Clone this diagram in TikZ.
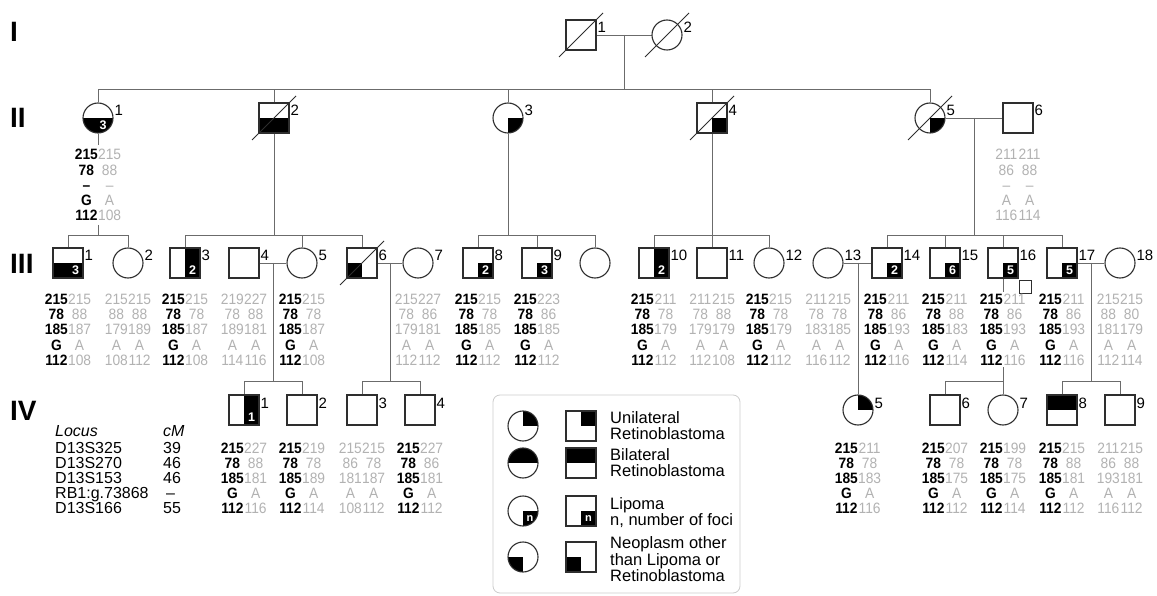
\documentclass[tikz,border=0pt]{standalone}
\usepackage{fontspec}
\setmainfont{Liberation Sans}
\newfontfamily\hapfont[FakeStretch=0.92]{Liberation Sans}
\usetikzlibrary{calc}
\definecolor{hapgray}{gray}{0.70}
\definecolor{lncol}{gray}{0.42}
\definecolor{symcol}{gray}{0.18}
\definecolor{boxcol}{gray}{0.80}
\newcommand\hapcol[9]{%
 \node[#4] (#1a) at (#2,#3) {#5};
 \node[#4] (#1b) at (#2,#3+15.2) {#6};
 \node[#4] (#1c) at (#2,#3+30.4) {#7};
 \node[#4] (#1d) at (#2,#3+45.6) {#8};
 \node[#4] (#1e) at (#2,#3+60.8) {#9};}
\tikzset{
 conn/.style={draw=lncol, line width=0.9pt},
 sq/.style={rectangle, draw=symcol, line width=1.1pt, minimum size=30pt, inner sep=0pt, fill=white},
 ci/.style={circle, draw=symcol, line width=1.1pt, minimum size=30pt, inner sep=0pt, fill=white},
 fBR/.style={path picture={\fill[black] (path picture bounding box.center) rectangle (path picture bounding box.south east);}},
 fTR/.style={path picture={\fill[black] (path picture bounding box.center) rectangle (path picture bounding box.north east);}},
 fBL/.style={path picture={\fill[black] (path picture bounding box.center) rectangle (path picture bounding box.south west);}},
 fBH/.style={path picture={\fill[black] (path picture bounding box.west) rectangle (path picture bounding box.south east);}},
 fTH/.style={path picture={\fill[black] (path picture bounding box.west) rectangle (path picture bounding box.north east);}},
 fRH/.style={path picture={\fill[black] (path picture bounding box.north) rectangle (path picture bounding box.south east);}},
 slash/.style={draw=symcol, line width=1pt},
 hb/.style={anchor=base, inner sep=0pt, font=\hapfont\fontsize{15}{15}\selectfont\bfseries, text=black},
 hg/.style={anchor=base, inner sep=0pt, font=\hapfont\fontsize{15}{15}\selectfont, text=hapgray},
 lbl/.style={anchor=base west, inner sep=0pt, font=\fontsize{15}{15}\selectfont},
 gen/.style={anchor=base west, inner sep=0pt, font=\bfseries\fontsize{28}{28}\selectfont},
 lt/.style={anchor=base west, inner sep=0pt, font=\fontsize{16.5}{17}\selectfont},
 loc/.style={anchor=base west, inner sep=0pt, font=\fontsize{16}{16}\selectfont},
 qn/.style={inner sep=0pt, text=white, font=\bfseries\fontsize{12.5}{12.5}\selectfont},
}
\begin{document}
\begin{tikzpicture}[x=1pt,y=-1pt]
\fill[white] (0,0) rectangle (1157,596);
\useasboundingbox (0,0) rectangle (1157,596);

% generation labels
\node[gen] (gI) at (10,42) {I};
\node[gen] (gII) at (10,128) {II};
\node[gen] (gIII) at (10,273.5) {III};
\node[gen] (gIV) at (10,420) {IV};

% helper coordinates for sibship lines
\coordinate (s2) at (0,89);
\coordinate (s3) at (0,235);
\coordinate (s4) at (0,381);

% ---------------- Generation I
\coordinate (m12) at (624,35);
\draw[conn] (581,35) -- (667,35);
\node[sq] (I1) at (581,35) {};
\node[ci] (I2) at (667,35) {};
\draw[slash] ([shift={(-22,22)}]I1.center) -- ([shift={(22,-22)}]I1.center);
\draw[slash] ([shift={(-22,22)}]I2.center) -- ([shift={(22,-22)}]I2.center);
\node[lbl] (I1l) at ([shift={(0.8,-2)}]I1.east) {1};
\node[lbl] (I2l) at ([shift={(0.8,-2)}]I2.east) {2};
\draw[conn] (m12) -- (m12 |- s2);

% ---------------- Generation II
\node[ci, fBH] (II1) at (98,118) {};
\node[qn] (II1n) at ([shift={(5,7)}]II1.center) {3};
\node[sq, fBH] (II2) at (274,118) {};
\node[ci, fBR] (II3) at (508,118) {};
\node[sq, fBR] (II4) at (712,118) {};
\node[ci, fBR] (II5) at (930,118) {};
\node[sq] (II6) at (1018,118) {};
\draw[slash] ([shift={(-22,22)}]II2.center) -- ([shift={(22,-22)}]II2.center);
\draw[slash] ([shift={(-22,22)}]II4.center) -- ([shift={(22,-22)}]II4.center);
\draw[slash] ([shift={(-22,22)}]II5.center) -- ([shift={(22,-22)}]II5.center);
\node[lbl] (II1l) at ([shift={(0.8,-2)}]II1.east) {1};
\node[lbl] (II2l) at ([shift={(0.8,-2)}]II2.east) {2};
\node[lbl] (II3l) at ([shift={(0.8,-2)}]II3.east) {3};
\node[lbl] (II4l) at ([shift={(0.8,-2)}]II4.east) {4};
\node[lbl] (II5l) at ([shift={(0.8,-2)}]II5.east) {5};
\node[lbl] (II6l) at ([shift={(0.8,-2)}]II6.east) {6};

\draw[conn] (II1.north) -- (II1.north |- s2) -- (II5.north |- s2) -- (II5.north);
\draw[conn] (II2.north) -- (II2.north |- s2);
\draw[conn] (II3.north) -- (II3.north |- s2);
\draw[conn] (II4.north) -- (II4.north |- s2);
\draw[conn] (II5.east) -- (II6.west);

\hapcol{hII1L}{98-11.6}{160}{hb}{215}{78}{–}{G}{112}
\hapcol{hII1R}{98+11.6}{160}{hg}{215}{88}{–}{A}{108}
\hapcol{hII6L}{1018-11.6}{160}{hg}{211}{86}{–}{A}{116}
\hapcol{hII6R}{1018+11.6}{160}{hg}{211}{88}{–}{A}{114}

% ---------------- Generation III
\node[sq, fBH] (III1) at (68,263) {};
\node[qn] (III1n) at ([shift={(7.5,7.5)}]III1.center) {3};
\node[ci] (III2) at (128,263) {};
\node[sq, fRH] (III3) at (185,263) {};
\node[qn] (III3n) at ([shift={(7.5,7.5)}]III3.center) {2};
\node[sq] (III4) at (244,263) {};
\node[ci] (III5) at (302,263) {};
\node[sq, fBL] (III6) at (362,263) {};
\node[ci] (III7) at (418,263) {};
\node[sq, fBR] (III8) at (478,263) {};
\node[qn] (III8n) at ([shift={(7.5,7.5)}]III8.center) {2};
\node[sq, fBR] (III9) at (537,263) {};
\node[qn] (III9n) at ([shift={(7.5,7.5)}]III9.center) {3};
\node[ci] (IIIx) at (595,263) {};
\node[sq, fRH] (III10) at (654,263) {};
\node[qn] (III10n) at ([shift={(7.5,7.5)}]III10.center) {2};
\node[sq] (III11) at (712,263) {};
\node[ci] (III12) at (769,263) {};
\node[ci] (III13) at (828,263) {};
\node[sq, fBR] (III14) at (887,263) {};
\node[qn] (III14n) at ([shift={(7.5,7.5)}]III14.center) {2};
\node[sq, fBR] (III15) at (945,263) {};
\node[qn] (III15n) at ([shift={(7.5,7.5)}]III15.center) {6};
\node[sq, fBR] (III16) at (1003,263) {};
\node[qn] (III16n) at ([shift={(7.5,7.5)}]III16.center) {5};
\node[sq, fBR] (III17) at (1062,263) {};
\node[qn] (III17n) at ([shift={(7.5,7.5)}]III17.center) {5};
\node[ci] (III18) at (1120,263) {};
\node[sq, minimum size=12.5pt, line width=1pt] (III16s) at (1025.5,287) {};
\draw[slash] ([shift={(-22,22)}]III6.center) -- ([shift={(22,-22)}]III6.center);

\node[lbl] (III1l) at ([shift={(0.8,-2)}]III1.east) {1};
\node[lbl] (III2l) at ([shift={(0.8,-2)}]III2.east) {2};
\node[lbl] (III3l) at ([shift={(0.8,-2)}]III3.east) {3};
\node[lbl] (III4l) at ([shift={(0.8,-2)}]III4.east) {4};
\node[lbl] (III5l) at ([shift={(0.8,-2)}]III5.east) {5};
\node[lbl] (III6l) at ([shift={(0.8,-2)}]III6.east) {6};
\node[lbl] (III7l) at ([shift={(0.8,-2)}]III7.east) {7};
\node[lbl] (III8l) at ([shift={(0.8,-2)}]III8.east) {8};
\node[lbl] (III9l) at ([shift={(0.8,-2)}]III9.east) {9};
\node[lbl] (III10l) at ([shift={(0.8,-2)}]III10.east) {10};
\node[lbl] (III11l) at ([shift={(0.8,-2)}]III11.east) {11};
\node[lbl] (III12l) at ([shift={(0.8,-2)}]III12.east) {12};
\node[lbl] (III13l) at ([shift={(0.8,-2)}]III13.east) {13};
\node[lbl] (III14l) at ([shift={(0.8,-2)}]III14.east) {14};
\node[lbl] (III15l) at ([shift={(0.8,-2)}]III15.east) {15};
\node[lbl] (III16l) at ([shift={(0.8,-2)}]III16.east) {16};
\node[lbl] (III17l) at ([shift={(0.8,-2)}]III17.east) {17};
\node[lbl] (III18l) at ([shift={(0.8,-2)}]III18.east) {18};

% descent lines II -> III
\coordinate (d1a) at (98,145);
\coordinate (d1b) at (98,225);
\draw[conn] (II1.south) -- (d1a);
\draw[conn] (d1b) -- (d1b |- s3);
\draw[conn] (III1.north) -- (III1.north |- s3) -- (III2.north |- s3) -- (III2.north);
\draw[conn] (II2.south) -- (II2.south |- s3);
\draw[conn] (III3.north) -- (III3.north |- s3) -- (III6.north |- s3) -- (III6.north);
\draw[conn] (III5.north) -- (III5.north |- s3);
\draw[conn] (II3.south) -- (II3.south |- s3);
\draw[conn] (III8.north) -- (III8.north |- s3) -- (IIIx.north |- s3) -- (IIIx.north);
\draw[conn] (III9.north) -- (III9.north |- s3);
\draw[conn] (II4.south) -- (II4.south |- s3);
\draw[conn] (III10.north) -- (III10.north |- s3) -- (III12.north |- s3) -- (III12.north);
\draw[conn] (III11.north) -- (III11.north |- s3);
\coordinate (m56) at (974,118);
\draw[conn] (m56) -- (m56 |- s3);
\draw[conn] (III14.north) -- (III14.north |- s3) -- (III17.north |- s3) -- (III17.north);
\draw[conn] (III15.north) -- (III15.north |- s3);
\draw[conn] (III16.north) -- (III16.north |- s3);

% marriages in III
\draw[conn] (III4.east) -- (III5.west);
\draw[conn] (III6.east) -- (III7.west);
\draw[conn] (III13.east) -- (III14.west);
\draw[conn] (III17.east) -- (III18.west);
\coordinate (m45) at (273,263);
\coordinate (m67) at (390,263);
\coordinate (m1314) at (858,263);
\coordinate (m1718) at (1091,263);
\coordinate (d16a) at (1003,292);
\coordinate (d16b) at (1003,367);

% haplotypes III
\hapcol{hIII1L}{68-11.6}{304.5}{hb}{215}{78}{185}{G}{112}
\hapcol{hIII1R}{68+11.6}{304.5}{hg}{215}{88}{187}{A}{108}
\hapcol{hIII2L}{128-11.6}{304.5}{hg}{215}{88}{179}{A}{108}
\hapcol{hIII2R}{128+11.6}{304.5}{hg}{215}{88}{189}{A}{112}
\hapcol{hIII3L}{185-11.6}{304.5}{hb}{215}{78}{185}{G}{112}
\hapcol{hIII3R}{185+11.6}{304.5}{hg}{215}{78}{187}{A}{108}
\hapcol{hIII4L}{244-11.6}{304.5}{hg}{219}{78}{189}{A}{114}
\hapcol{hIII4R}{244+11.6}{304.5}{hg}{227}{88}{181}{A}{116}
\hapcol{hIII5L}{302-11.6}{304.5}{hb}{215}{78}{185}{G}{112}
\hapcol{hIII5R}{302+11.6}{304.5}{hg}{215}{78}{187}{A}{108}
\hapcol{hIII7L}{418-11.6}{304.5}{hg}{215}{78}{179}{A}{112}
\hapcol{hIII7R}{418+11.6}{304.5}{hg}{227}{86}{181}{A}{112}
\hapcol{hIII8L}{478-11.6}{304.5}{hb}{215}{78}{185}{G}{112}
\hapcol{hIII8R}{478+11.6}{304.5}{hg}{215}{78}{185}{A}{112}
\hapcol{hIII9L}{537-11.6}{304.5}{hb}{215}{78}{185}{G}{112}
\hapcol{hIII9R}{537+11.6}{304.5}{hg}{223}{86}{185}{A}{112}
\hapcol{hIIIaL}{654-11.6}{304.5}{hb}{215}{78}{185}{G}{112}
\hapcol{hIIIaR}{654+11.6}{304.5}{hg}{211}{78}{179}{A}{112}
\hapcol{hIIIbL}{712-11.6}{304.5}{hg}{211}{78}{179}{A}{112}
\hapcol{hIIIbR}{712+11.6}{304.5}{hg}{215}{88}{179}{A}{108}
\hapcol{hIIIcL}{769-11.6}{304.5}{hb}{215}{78}{185}{G}{112}
\hapcol{hIIIcR}{769+11.6}{304.5}{hg}{215}{78}{179}{A}{112}
\hapcol{hIIIdL}{828-11.6}{304.5}{hg}{211}{78}{183}{A}{116}
\hapcol{hIIIdR}{828+11.6}{304.5}{hg}{215}{78}{185}{A}{112}
\hapcol{hIIIeL}{887-11.6}{304.5}{hb}{215}{78}{185}{G}{112}
\hapcol{hIIIeR}{887+11.6}{304.5}{hg}{211}{86}{193}{A}{116}
\hapcol{hIIIfL}{945-11.6}{304.5}{hb}{215}{78}{185}{G}{112}
\hapcol{hIIIfR}{945+11.6}{304.5}{hg}{211}{88}{183}{A}{114}
\hapcol{hIIIgL}{1003-11.6}{304.5}{hb}{215}{78}{185}{G}{112}
\hapcol{hIIIgR}{1003+11.6}{304.5}{hg}{211}{86}{193}{A}{116}
\hapcol{hIIIhL}{1062-11.6}{304.5}{hb}{215}{78}{185}{G}{112}
\hapcol{hIIIhR}{1062+11.6}{304.5}{hg}{211}{86}{193}{A}{116}
\hapcol{hIIIiL}{1120-11.6}{304.5}{hg}{215}{88}{181}{A}{112}
\hapcol{hIIIiR}{1120+11.6}{304.5}{hg}{215}{80}{179}{A}{114}

% ---------------- Generation IV
\node[sq, fRH] (IV1) at (244,410) {};
\node[qn] (IV1n) at ([shift={(7.5,7.5)}]IV1.center) {1};
\node[sq] (IV2) at (302,410) {};
\node[sq] (IV3) at (362,410) {};
\node[sq] (IV4) at (420,410) {};
\node[ci, fTR] (IV5) at (858,410) {};
\node[sq] (IV6) at (945,410) {};
\node[ci] (IV7) at (1003,410) {};
\node[sq, fTH] (IV8) at (1062,410) {};
\node[sq] (IV9) at (1120,410) {};
\node[lbl] (IV1l) at ([shift={(0.8,-2)}]IV1.east) {1};
\node[lbl] (IV2l) at ([shift={(0.8,-2)}]IV2.east) {2};
\node[lbl] (IV3l) at ([shift={(0.8,-2)}]IV3.east) {3};
\node[lbl] (IV4l) at ([shift={(0.8,-2)}]IV4.east) {4};
\node[lbl] (IV5l) at ([shift={(0.8,-2)}]IV5.east) {5};
\node[lbl] (IV6l) at ([shift={(0.8,-2)}]IV6.east) {6};
\node[lbl] (IV7l) at ([shift={(0.8,-2)}]IV7.east) {7};
\node[lbl] (IV8l) at ([shift={(0.8,-2)}]IV8.east) {8};
\node[lbl] (IV9l) at ([shift={(0.8,-2)}]IV9.east) {9};

\draw[conn] (m45) -- (m45 |- s4);
\draw[conn] (IV1.north) -- (IV1.north |- s4) -- (IV2.north |- s4) -- (IV2.north);
\draw[conn] (m67) -- (m67 |- s4);
\draw[conn] (IV3.north) -- (IV3.north |- s4) -- (IV4.north |- s4) -- (IV4.north);
\draw[conn] (m1314) -- (IV5.north);
\draw[conn] (III16.south) -- (d16a);
\draw[conn] (d16b) -- (IV7.north);
\draw[conn] (IV6.north) -- (IV6.north |- s4) -- (IV7.north |- s4);
\draw[conn] (m1718) -- (m1718 |- s4);
\draw[conn] (IV8.north) -- (IV8.north |- s4) -- (IV9.north |- s4) -- (IV9.north);

\hapcol{hIV1L}{244-11.6}{453}{hb}{215}{78}{185}{G}{112}
\hapcol{hIV1R}{244+11.6}{453}{hg}{227}{88}{181}{A}{116}
\hapcol{hIV2L}{302-11.6}{453}{hb}{215}{78}{185}{G}{112}
\hapcol{hIV2R}{302+11.6}{453}{hg}{219}{78}{189}{A}{114}
\hapcol{hIV3L}{362-11.6}{453}{hg}{215}{86}{181}{A}{108}
\hapcol{hIV3R}{362+11.6}{453}{hg}{215}{78}{187}{A}{112}
\hapcol{hIV4L}{420-11.6}{453}{hb}{215}{78}{185}{G}{112}
\hapcol{hIV4R}{420+11.6}{453}{hg}{227}{86}{181}{A}{112}
\hapcol{hIV5L}{858-11.6}{453}{hb}{215}{78}{185}{G}{112}
\hapcol{hIV5R}{858+11.6}{453}{hg}{211}{78}{183}{A}{116}
\hapcol{hIV6L}{945-11.6}{453}{hb}{215}{78}{185}{G}{112}
\hapcol{hIV6R}{945+11.6}{453}{hg}{207}{78}{175}{A}{112}
\hapcol{hIV7L}{1003-11.6}{453}{hb}{215}{78}{185}{G}{112}
\hapcol{hIV7R}{1003+11.6}{453}{hg}{199}{78}{175}{A}{114}
\hapcol{hIV8L}{1062-11.6}{453}{hb}{215}{78}{185}{G}{112}
\hapcol{hIV8R}{1062+11.6}{453}{hg}{215}{88}{181}{A}{112}
\hapcol{hIV9L}{1120-11.6}{453}{hg}{211}{86}{193}{A}{116}
\hapcol{hIV9R}{1120+11.6}{453}{hg}{215}{88}{181}{A}{112}

% ---------------- Locus table
\node[loc, font=\itshape\fontsize{16}{16}\selectfont] (locH) at (55,436) {Locus};
\node[loc, font=\itshape\fontsize{16}{16}\selectfont] (cmH) at (163,436) {cM};
\node[loc] (loc1) at (55,453) {D13S325};
\node[loc] (loc2) at (55,468.2) {D13S270};
\node[loc] (loc3) at (55,483.4) {D13S153};
\node[loc] (loc4) at (55,498.6) {RB1:g.73868};
\node[loc] (loc5) at (55,513.8) {D13S166};
\node[loc] (cm1) at (163,453) {39};
\node[loc] (cm2) at (163,468.2) {46};
\node[loc] (cm3) at (163,483.4) {46};
\node[loc] (cm4) at (166,498.6) {–};
\node[loc] (cm5) at (163,513.8) {55};

% ---------------- Legend
\node[draw=boxcol, line width=0.8pt, rounded corners=7pt, minimum width=247pt, minimum height=198pt, inner sep=0pt] (legend) at (616.5,494) {};
\node[ci, fTR] (LC1) at (523,426) {};
\node[sq, fTR] (LS1) at (581,426) {};
\node[ci, fTH] (LC2) at (523,463) {};
\node[sq, fTH] (LS2) at (581,463) {};
\node[ci, fBR] (LC3) at (523,511) {};
\node[qn, font=\bfseries\fontsize{11}{11}\selectfont] (LC3n) at ([shift={(7,7.5)}]LC3.center) {n};
\node[sq, fBR] (LS3) at (581,511) {};
\node[qn, font=\bfseries\fontsize{11}{11}\selectfont] (LS3n) at ([shift={(7.5,7.5)}]LS3.center) {n};
\node[ci, fBL] (LC4) at (523,557) {};
\node[sq, fBL] (LS4) at (581,557) {};
\node[lt] (LT1a) at (610,423) {Unilateral};
\node[lt] (LT1b) at (610,439) {Retinoblastoma};
\node[lt] (LT2a) at (610,460) {Bilateral};
\node[lt] (LT2b) at (610,476) {Retinoblastoma};
\node[lt] (LT3a) at (610,509.5) {Lipoma};
\node[lt] (LT3b) at (610,525.5) {n, number of foci};
\node[lt] (LT4a) at (610,548.5) {Neoplasm other};
\node[lt] (LT4b) at (610,565) {than Lipoma or};
\node[lt] (LT4c) at (610,581.5) {Retinoblastoma};
\end{tikzpicture}
\end{document}
